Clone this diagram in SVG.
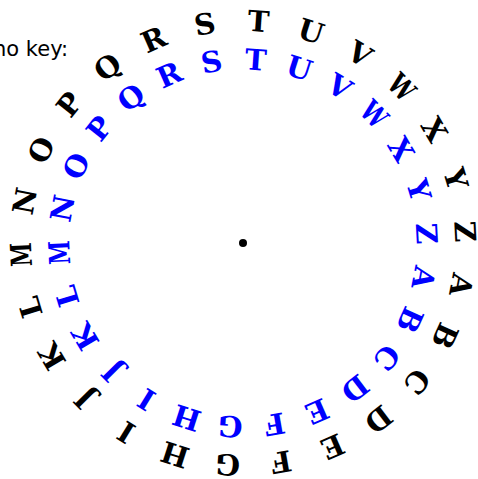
<svg xmlns="http://www.w3.org/2000/svg" width="478" height="479" viewBox="0 0 478 479">
<style>
text.l{font-family:"DejaVu Serif","Liberation Serif",serif;font-weight:bold;font-size:29px;text-anchor:middle}
.outer text{fill:#000}
.inner text{fill:#0000ff}
.cap{font-family:"DejaVu Sans",sans-serif;font-size:21px;fill:#000}
</style>
<rect width="478" height="479" fill="#fff"/>
<text class="cap" x="-7" y="56">no key:</text>
<g id="outer" class="outer">
<text class="l" x="243" y="31" transform="rotate(100.90 243 243)">A</text>
<text class="l" x="243" y="31" transform="rotate(114.75 243 243)">B</text>
<text class="l" x="243" y="31" transform="rotate(128.59 243 243)">C</text>
<text class="l" x="243" y="31" transform="rotate(142.44 243 243)">D</text>
<text class="l" x="243" y="31" transform="rotate(156.28 243 243)">E</text>
<text class="l" x="243" y="31" transform="rotate(170.13 243 243)">F</text>
<text class="l" x="243" y="31" transform="rotate(183.98 243 243)">G</text>
<text class="l" x="243" y="31" transform="rotate(197.82 243 243)">H</text>
<text class="l" x="243" y="31" transform="rotate(211.67 243 243)">I</text>
<text class="l" x="243" y="31" transform="rotate(225.51 243 243)">J</text>
<text class="l" x="243" y="31" transform="rotate(239.36 243 243)">K</text>
<text class="l" x="243" y="31" transform="rotate(253.21 243 243)">L</text>
<text class="l" x="243" y="31" transform="rotate(267.05 243 243)" textLength="24" lengthAdjust="spacingAndGlyphs">M</text>
<text class="l" x="243" y="31" transform="rotate(280.90 243 243)">N</text>
<text class="l" x="243" y="31" transform="rotate(294.75 243 243)">O</text>
<text class="l" x="243" y="31" transform="rotate(308.59 243 243)">P</text>
<text class="l" x="243" y="31" transform="rotate(322.44 243 243)">Q</text>
<text class="l" x="243" y="31" transform="rotate(336.28 243 243)">R</text>
<text class="l" x="243" y="31" transform="rotate(350.13 243 243)">S</text>
<text class="l" x="243" y="31" transform="rotate(3.98 243 243)">T</text>
<text class="l" x="243" y="31" transform="rotate(17.82 243 243)">U</text>
<text class="l" x="243" y="31" transform="rotate(31.67 243 243)">V</text>
<text class="l" x="243" y="31" transform="rotate(45.51 243 243)" textLength="25" lengthAdjust="spacingAndGlyphs">W</text>
<text class="l" x="243" y="31" transform="rotate(59.36 243 243)">X</text>
<text class="l" x="243" y="31" transform="rotate(73.21 243 243)">Y</text>
<text class="l" x="243" y="31" transform="rotate(87.05 243 243)">Z</text>
</g>
<g id="inner" class="inner">
<text class="l" x="243" y="69.5" transform="rotate(100.90 243 243)">A</text>
<text class="l" x="243" y="69.5" transform="rotate(114.75 243 243)">B</text>
<text class="l" x="243" y="69.5" transform="rotate(128.59 243 243)">C</text>
<text class="l" x="243" y="69.5" transform="rotate(142.44 243 243)">D</text>
<text class="l" x="243" y="69.5" transform="rotate(156.28 243 243)">E</text>
<text class="l" x="243" y="69.5" transform="rotate(170.13 243 243)">F</text>
<text class="l" x="243" y="69.5" transform="rotate(183.98 243 243)">G</text>
<text class="l" x="243" y="69.5" transform="rotate(197.82 243 243)">H</text>
<text class="l" x="243" y="69.5" transform="rotate(211.67 243 243)">I</text>
<text class="l" x="243" y="69.5" transform="rotate(225.51 243 243)">J</text>
<text class="l" x="243" y="69.5" transform="rotate(239.36 243 243)">K</text>
<text class="l" x="243" y="69.5" transform="rotate(253.21 243 243)">L</text>
<text class="l" x="243" y="69.5" transform="rotate(267.05 243 243)" textLength="24" lengthAdjust="spacingAndGlyphs">M</text>
<text class="l" x="243" y="69.5" transform="rotate(280.90 243 243)">N</text>
<text class="l" x="243" y="69.5" transform="rotate(294.75 243 243)">O</text>
<text class="l" x="243" y="69.5" transform="rotate(308.59 243 243)">P</text>
<text class="l" x="243" y="69.5" transform="rotate(322.44 243 243)">Q</text>
<text class="l" x="243" y="69.5" transform="rotate(336.28 243 243)">R</text>
<text class="l" x="243" y="69.5" transform="rotate(350.13 243 243)">S</text>
<text class="l" x="243" y="69.5" transform="rotate(3.98 243 243)">T</text>
<text class="l" x="243" y="69.5" transform="rotate(17.82 243 243)">U</text>
<text class="l" x="243" y="69.5" transform="rotate(31.67 243 243)">V</text>
<text class="l" x="243" y="69.5" transform="rotate(45.51 243 243)" textLength="25" lengthAdjust="spacingAndGlyphs">W</text>
<text class="l" x="243" y="69.5" transform="rotate(59.36 243 243)">X</text>
<text class="l" x="243" y="69.5" transform="rotate(73.21 243 243)">Y</text>
<text class="l" x="243" y="69.5" transform="rotate(87.05 243 243)">Z</text>
</g>
<g id="center">
<circle cx="243" cy="243" r="4" fill="#000"/>
</g>
</svg>
